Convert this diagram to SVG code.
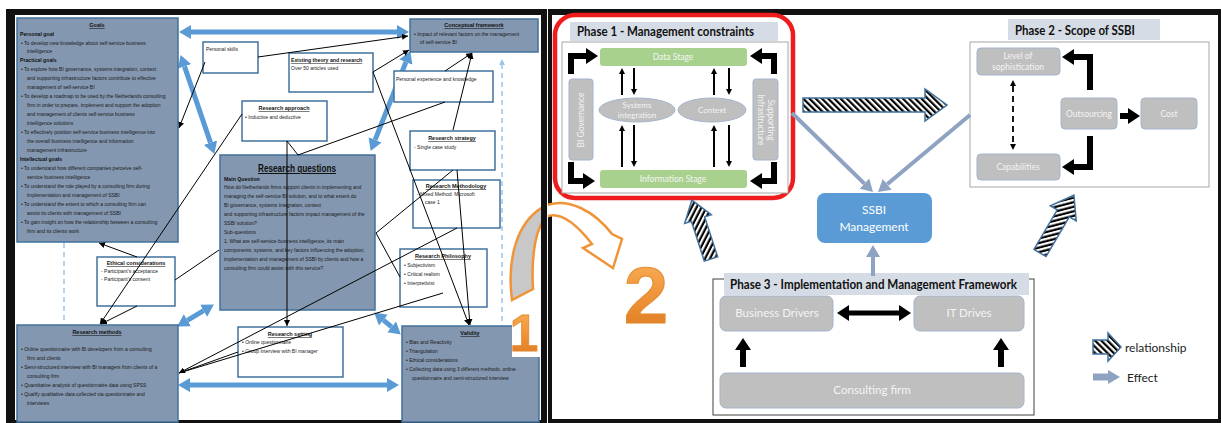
<svg xmlns="http://www.w3.org/2000/svg" width="1221" height="423" viewBox="0 0 1221 423">
<defs>
<style>
.lb{fill:#8497b0;stroke:#41719c;stroke-width:1.5}
.wb{fill:#fff;stroke:#41719c;stroke-width:1.5}
.t{font-family:"Liberation Sans",Arial,sans-serif;font-size:5px;fill:#1a1a1a}
.tb{font-family:"Liberation Sans",Arial,sans-serif;font-size:5.2px;fill:#111;font-weight:bold}
.tu{font-family:"Liberation Sans",Arial,sans-serif;font-size:5.5px;fill:#111;font-weight:bold;text-decoration:underline;text-anchor:middle}
.cn{stroke:#000;stroke-width:1;fill:none}
.ba{stroke:#5b9bd5;stroke-width:5;fill:none}
.dl{stroke:#9dc3e6;stroke-width:1.5;stroke-dasharray:5 4;fill:none}
.gb{fill:#bfbfbf;stroke:#a3b4cc;stroke-width:1}
.gt{font-family:Lato,"Open Sans",sans-serif;fill:#f4f4f4;text-anchor:middle}
.hd{font-family:Lato,"Open Sans",sans-serif;font-weight:bold;fill:#111}
.band{fill:#d6dce5}
.fx{stroke:#8ea3c1;stroke-width:4;fill:none}
.hatch{fill:url(#hp);stroke:#41719c;stroke-width:1.5}
</style>
<pattern id="hp" patternUnits="userSpaceOnUse" width="4.4" height="4.4" patternTransform="rotate(-45)"><rect width="4.4" height="4.4" fill="#fff"/><rect width="2.2" height="4.4" fill="#000"/></pattern>
<marker id="mb" markerUnits="userSpaceOnUse" markerWidth="12" markerHeight="14" refX="0" refY="7" orient="auto-start-reverse"><path d="M0,0 L12,7 L0,14 z" fill="#5b9bd5"/></marker>
<marker id="ms" markerUnits="userSpaceOnUse" markerWidth="6" markerHeight="6" refX="6" refY="3" orient="auto"><path d="M0,0 L6,3 L0,6 z" fill="#000"/></marker>
<marker id="mk" markerUnits="userSpaceOnUse" markerWidth="12" markerHeight="16" refX="0" refY="8" orient="auto-start-reverse"><path d="M0,0 L12,8 L0,16 z" fill="#000"/></marker>
<marker id="mt" markerUnits="userSpaceOnUse" markerWidth="6" markerHeight="6" refX="0" refY="3" orient="auto"><path d="M0,0 L6,3 L0,6 z" fill="#000"/></marker>
<marker id="md" markerUnits="userSpaceOnUse" markerWidth="6" markerHeight="6" refX="0" refY="3" orient="auto-start-reverse"><path d="M0,0 L6,3 L0,6 z" fill="#000"/></marker>
<marker id="me" markerUnits="userSpaceOnUse" markerWidth="12" markerHeight="14" refX="0" refY="7" orient="auto"><path d="M0,0 L12,7 L0,14 z" fill="#8ea3c1"/></marker>
<marker id="mdb" markerUnits="userSpaceOnUse" markerWidth="6" markerHeight="6" refX="0" refY="3" orient="auto"><path d="M0,0 L6,3 L0,6 z" fill="#9dc3e6"/></marker>
<linearGradient id="og" x1="0" y1="0" x2="0" y2="1"><stop offset="0" stop-color="#f9b35c"/><stop offset="0.5" stop-color="#f0943a"/><stop offset="1" stop-color="#d9771e"/></linearGradient>
<clipPath id="cl"><rect x="0" y="0" width="541" height="423"/></clipPath>
<clipPath id="cr"><rect x="548" y="0" width="673" height="423"/></clipPath>
</defs>

<rect width="1221" height="423" fill="#fff"/>

<!-- frames -->
<g id="frames">
<rect x="6" y="9" width="541" height="414" fill="#111"/>
<rect x="15" y="15" width="526" height="405" fill="#fff"/>
<rect x="548" y="9" width="673" height="414" fill="#111"/>
<rect x="552" y="15" width="666" height="404" fill="#fff"/>
</g>

<!-- LEFT PANEL -->
<g id="left-connectors">
<line class="ba" x1="191" y1="32" x2="397" y2="32" marker-start="url(#mb)" marker-end="url(#mb)"/>
<line class="ba" x1="184.5" y1="66.4" x2="210.5" y2="142.6" marker-start="url(#mb)" marker-end="url(#mb)"/>
<line class="ba" x1="405.9" y1="62.2" x2="375.1" y2="139.8" marker-start="url(#mb)" marker-end="url(#mb)"/>
<line class="ba" x1="187.4" y1="320.3" x2="203.6" y2="310.7" marker-start="url(#mb)" marker-end="url(#mb)"/>
<line class="ba" x1="383.4" y1="320.1" x2="391.6" y2="326.9" marker-start="url(#mb)" marker-end="url(#mb)"/>
<line class="ba" x1="190" y1="385" x2="387" y2="385" marker-start="url(#mb)" marker-end="url(#mb)"/>
<line class="dl" x1="64" y1="243" x2="64" y2="325"/>
<line class="dl" x1="502" y1="330" x2="502" y2="65" marker-end="url(#mdb)"/>
</g>

<g id="goals"><rect class="lb" x="17" y="18" width="161" height="224"/>
<text class="tu" x="97" y="27">Goals</text>
<text class="tb" x="20" y="36">Personal goal</text>
<text class="t" x="21" y="45">•  To develop new knowledge about self-service business</text>
<text class="t" x="27" y="53">intelligence</text>
<text class="tb" x="20" y="62">Practical goals</text>
<text class="t" x="21" y="71">•  To explore how BI governance, systems integration, context</text>
<text class="t" x="27" y="80">and supporting infrastructure factors contribute to effective</text>
<text class="t" x="27" y="89">management of self-service BI</text>
<text class="t" x="21" y="98">•  To develop a roadmap to be used by the Netherlands consulting</text>
<text class="t" x="27" y="107">firm in order to prepare, implement and support the adoption</text>
<text class="t" x="27" y="116">and management of clients self-service business</text>
<text class="t" x="27" y="125">intelligence solutions</text>
<text class="t" x="21" y="134">•  To effectively position self-service business intelligence into</text>
<text class="t" x="27" y="143">the overall business intelligence and information</text>
<text class="t" x="27" y="152">management infrastructure</text>
<text class="tb" x="20" y="161">Intellectual goals</text>
<text class="t" x="21" y="170">•  To understand how different companies perceive self-</text>
<text class="t" x="27" y="179">service business intelligence</text>
<text class="t" x="21" y="188">•  To understand the role played by a consulting firm during</text>
<text class="t" x="27" y="197">implementation and management of SSBI</text>
<text class="t" x="21" y="206">•  To understand the extent to which a consulting firm can</text>
<text class="t" x="27" y="215">assist its clients with management of SSBI</text>
<text class="t" x="21" y="224">•  To gain insight on how the relationship between a consulting</text>
<text class="t" x="27" y="233">firm and its clients work</text>
</g>

<g id="research-questions"><rect class="lb" x="220" y="155" width="155" height="155"/>
<text x="297" y="172" text-anchor="middle" font-family="Liberation Sans, Arial, sans-serif" font-size="10" font-weight="bold" text-decoration="underline" fill="#111" textLength="78" lengthAdjust="spacingAndGlyphs">Research questions</text>
<text class="tb" x="224" y="181">Main Question</text>
<text class="t" x="224" y="189">How do Netherlands firms support clients in implementing and</text>
<text class="t" x="224" y="198">managing the self-service BI solution, and to what extent do</text>
<text class="t" x="224" y="207">BI governance, systems integration, context</text>
<text class="t" x="224" y="216">and supporting infrastructure factors impact management of the</text>
<text class="t" x="224" y="225">SSBI solution?</text>
<text class="t" x="224" y="234">Sub-questions</text>
<text class="t" x="224" y="243">1. What are self-service business intelligence, its main</text>
<text class="t" x="224" y="252">components, systems, and key factors influencing the adoption,</text>
<text class="t" x="224" y="261">implementation and management of SSBI by clients and how a</text>
<text class="t" x="224" y="270">consulting firm could assist with this service?</text>
</g>

<g id="conceptual-framework"><rect class="lb" x="410" y="19" width="128" height="33"/>
<text class="tu" x="474" y="27">Conceptual framework</text>
<text class="t" x="414" y="36">•  Impact of relevant factors on the management</text>
<text class="t" x="420" y="44">of self-service BI</text>
</g>

<g id="research-methods"><rect class="lb" x="17" y="325" width="161" height="97"/>
<text class="tu" x="97" y="334">Research methods</text>
<text class="t" x="21" y="351">•  Online questionnaire with BI developers from a consulting</text>
<text class="t" x="27" y="360">firm and clients</text>
<text class="t" x="21" y="369">•  Semi-structured interview with BI managers from clients of a</text>
<text class="t" x="27" y="378">consulting firm</text>
<text class="t" x="21" y="387">•  Quantitative analysis of questionnaire data using SPSS</text>
<text class="t" x="21" y="396">•  Qualify qualitative data collected via questionnaire and</text>
<text class="t" x="27" y="405">interviews</text>
</g>

<g id="validity"><rect class="lb" x="402" y="326" width="137" height="96"/>
<text class="tu" x="470" y="335">Validity</text>
<text class="t" x="406" y="344">•  Bias and Reactivity</text>
<text class="t" x="406" y="353">•  Triangulation</text>
<text class="t" x="406" y="362">•  Ethical considerations</text>
<text class="t" x="406" y="371">•  Collecting data using 3 different methods, online</text>
<text class="t" x="412" y="380">questionnaire and semi-structured interview</text>
</g>

<g id="personal-skills"><rect class="wb" x="203" y="42" width="55" height="31"/>
<text class="t" x="206" y="51">Personal skills</text></g>

<g id="existing-theory"><rect class="wb" x="289" y="53" width="84" height="39"/>
<text class="tb" x="291" y="62" text-decoration="underline">Existing theory and research</text>
<text class="t" x="291" y="70">Over 50 articles used</text></g>

<g id="personal-experience"><rect class="wb" x="394" y="71" width="99" height="31"/>
<text class="t" x="396" y="81">Personal experience and knowledge</text></g>

<g id="research-approach"><rect class="wb" x="242" y="101" width="85" height="40"/>
<text class="tu" x="284" y="110">Research approach</text>
<text class="t" x="245" y="119">•  Inductive and deductive</text></g>

<g id="research-strategy"><rect class="wb" x="410" y="131" width="85" height="39"/>
<text class="tu" x="452" y="140">Research strategy</text>
<text class="t" x="414" y="149">-  Single case study</text></g>

<g id="research-methodology"><rect class="wb" x="413" y="180" width="87" height="48"/>
<text class="tu" x="456" y="188">Research Methodology</text>
<text class="t" x="417" y="196">- Mixed Method: Microsoft</text>
<text class="t" x="425" y="204">case 1</text></g>

<g id="research-philosophy"><rect class="wb" x="400" y="249" width="87" height="58"/>
<text class="tu" x="443" y="258">Research Philosophy</text>
<text class="t" x="404" y="267">•  Subjectivism</text>
<text class="t" x="404" y="276">•  Critical realism</text>
<text class="t" x="404" y="285">•  Interpretivist</text></g>

<g id="ethical-considerations"><rect class="wb" x="97" y="257" width="78" height="49"/>
<text class="tu" x="136" y="265">Ethical considerations</text>
<text class="t" x="101" y="273">-  Participant's acceptance</text>
<text class="t" x="101" y="281">-  Participant's consent</text></g>

<g id="research-setting"><rect class="wb" x="238" y="327" width="105" height="50"/>
<text class="tu" x="290" y="336">Research setting</text>
<text class="t" x="242" y="344">•  Online questionnaire</text>
<text class="t" x="242" y="353">•  Group interview with BI manager</text></g>

<g id="left-lines">
<path class="cn" d="M258,57 L408,36" marker-end="url(#ms)"/>
<path class="cn" d="M205,62 L179,128" marker-end="url(#ms)"/>
<path class="cn" d="M242,114 L100,324" marker-end="url(#ms)"/>
<path class="cn" d="M137,257 L99,243" marker-end="url(#ms)"/>
<path class="cn" d="M137,306 L101,324" marker-end="url(#ms)"/>
<path class="cn" d="M175,280 L219,250"/>
<path class="cn" d="M287,141 L287,326" marker-end="url(#ms)"/>
<path class="cn" d="M287,141 L298,155 L445,102"/>
<path class="cn" d="M373,72 L409,50" marker-end="url(#ms)"/>
<path class="cn" d="M445,71 L472,53" marker-end="url(#ms)"/>
<path class="cn" d="M453,130 L472,53" marker-end="url(#ms)"/>
<path class="cn" d="M373,72 L469,325" marker-end="url(#ms)"/>
<path class="cn" d="M457,170 L470,325" marker-end="url(#ms)"/>
<path class="cn" d="M453,170 L376,233 L400,277"/>
<path class="cn" d="M457,228 L179,373" marker-end="url(#ms)"/>
<path class="cn" d="M443,293 L179,373"/>
<path class="cn" d="M238,352 L179,373"/>
</g>

<!-- orange curved arrow and numbers -->
<g id="step-1">
<rect x="512" y="322" width="29" height="35" fill="#fff"/>
<path clip-path="url(#cl)" d="M512,300 C507,262 515,222 545,206 C568,196 595,212 612,234 L622,239 L613,268 L583,248 L592,244 C578,226 562,212 548,216 C536,224 531,255 533,289 Z" fill="#c8c8c8" stroke="#f0943a" stroke-width="2.5"/>
<text x="524" y="351" text-anchor="middle" font-family="Liberation Sans, Arial, sans-serif" font-size="52" font-weight="bold" fill="url(#og)" stroke="#e58a2e" stroke-width="0.8">1</text>
</g>
<g id="step-2">
<path clip-path="url(#cr)" d="M512,300 C507,262 515,222 545,206 C568,196 595,212 612,234 L622,239 L613,268 L583,248 L592,244 C578,226 562,212 548,216 C536,224 531,255 533,289 Z" fill="#fff" stroke="#f0943a" stroke-width="2.5"/>
<text x="646" y="323" text-anchor="middle" font-family="Liberation Sans, Arial, sans-serif" font-size="80" font-weight="bold" fill="url(#og)" stroke="#e58a2e" stroke-width="1">2</text>
</g>

<!-- RIGHT PANEL -->
<g id="phase1">
<rect x="555" y="15" width="238" height="183" rx="20" fill="#fff" stroke="#ee1c1c" stroke-width="4.5"/>
<rect class="band" x="570" y="22" width="208" height="19"/>
<text class="hd" x="577" y="36" font-size="13" textLength="177" lengthAdjust="spacingAndGlyphs">Phase 1 - Management constraints</text>
<rect x="562" y="42" width="226" height="151" fill="#fff" stroke="#a6a6a6" stroke-width="1"/>
<rect x="600" y="48" width="147" height="18" rx="3" fill="#a9d18e"/>
<text class="gt" x="673" y="60" font-size="8.5">Data Stage</text>
<rect x="600" y="170" width="147" height="18" rx="3" fill="#a9d18e"/>
<text class="gt" x="673" y="182" font-size="8.5">Information Stage</text>
<rect class="gb" x="569" y="79" width="24" height="81" rx="3"/>
<text class="gt" transform="translate(584,120) rotate(-90)" font-size="8.5">BI Governance</text>
<rect class="gb" x="753" y="79" width="25" height="81" rx="3"/>
<text class="gt" transform="translate(765,120) rotate(90)" font-size="8.5"><tspan x="0" y="-3">Supporting</tspan><tspan x="0" y="7">Infrastructure</tspan></text>
<ellipse class="gb" cx="637" cy="110" rx="38" ry="12"/>
<text class="gt" x="637" y="108" font-size="8">Systems</text>
<text class="gt" x="637" y="118" font-size="8">integration</text>
<ellipse class="gb" cx="712" cy="110" rx="34" ry="12"/>
<text class="gt" x="712" y="113" font-size="8">Context</text>
<g stroke="#000" stroke-width="2" fill="none">
<line x1="622" y1="95" x2="622" y2="74" marker-end="url(#mt)"/>
<line x1="634" y1="68" x2="634" y2="89" marker-end="url(#mt)"/>
<line x1="622" y1="167" x2="622" y2="131" marker-end="url(#mt)"/>
<line x1="634" y1="125" x2="634" y2="161" marker-end="url(#mt)"/>
<line x1="714" y1="95" x2="714" y2="74" marker-end="url(#mt)"/>
<line x1="729" y1="68" x2="729" y2="89" marker-end="url(#mt)"/>
<line x1="714" y1="167" x2="714" y2="131" marker-end="url(#mt)"/>
<line x1="729" y1="125" x2="729" y2="161" marker-end="url(#mt)"/>
</g>
<g stroke="#000" stroke-width="6" fill="none" stroke-linejoin="miter">
<polyline points="571,74 571,56 586,56" marker-end="url(#mk)"/>
<polyline points="774,74 774,56 762,56" marker-end="url(#mk)"/>
<polyline points="571,162 571,181 583,181" marker-end="url(#mk)"/>
<polyline points="774,162 774,181 762,181" marker-end="url(#mk)"/>
</g>
</g>

<g id="phase2">
<rect class="band" x="1008" y="19" width="152" height="21"/>
<text class="hd" x="1015" y="35" font-size="13" textLength="120" lengthAdjust="spacingAndGlyphs">Phase 2 - Scope of SSBI</text>
<rect x="970" y="42" width="239" height="145" fill="#fff" stroke="#a6a6a6" stroke-width="1"/>
<rect class="gb" x="977" y="48" width="83" height="27" rx="4"/>
<text class="gt" x="1018" y="59" font-size="8.5">Level of</text>
<text class="gt" x="1018" y="70" font-size="8.5">sophistication</text>
<rect class="gb" x="977" y="154" width="83" height="26" rx="4"/>
<text class="gt" x="1018" y="170" font-size="8.5">Capabilities</text>
<rect class="gb" x="1061" y="98" width="56" height="31" rx="4"/>
<text class="gt" x="1089" y="117" font-size="8.5">Outsourcing</text>
<rect class="gb" x="1141" y="98" width="56" height="31" rx="4"/>
<text class="gt" x="1169" y="117" font-size="8.5">Cost</text>
<g stroke="#000" stroke-width="6" fill="none">
<polyline points="1090,90 1090,57 1074,57" marker-end="url(#mk)"/>
<polyline points="1090,136 1090,167 1074,167" marker-end="url(#mk)"/>
<line x1="1120" y1="116" x2="1128" y2="116" marker-end="url(#mk)"/>
</g>
<line x1="1013" y1="86" x2="1013" y2="144" stroke="#000" stroke-width="1.8" stroke-dasharray="6 4" marker-start="url(#md)" marker-end="url(#md)"/>
</g>

<g id="ssbi-management">
<rect x="817" y="193" width="115" height="50" rx="8" fill="#5b9bd5"/>
<text x="874" y="214" text-anchor="middle" font-family="Lato, Open Sans, sans-serif" font-size="12" fill="#fff">SSBI</text>
<text x="874" y="231" text-anchor="middle" font-family="Lato, Open Sans, sans-serif" font-size="12" fill="#fff">Management</text>
</g>

<g id="phase3">
<rect x="713" y="279" width="321" height="136" fill="#fff" stroke="#404040" stroke-width="1"/>
<rect class="band" x="724" y="273" width="305" height="22"/>
<text class="hd" x="730" y="289" font-size="13" textLength="287" lengthAdjust="spacingAndGlyphs">Phase 3 - Implementation and Management Framework</text>
<rect class="gb" x="720" y="296" width="113" height="35" rx="6"/>
<text class="gt" x="777" y="317" font-size="11.5">Business Drivers</text>
<rect class="gb" x="914" y="296" width="110" height="35" rx="6"/>
<text class="gt" x="969" y="317" font-size="11.5">IT Drives</text>
<rect class="gb" x="720" y="373" width="304" height="35" rx="6"/>
<text class="gt" x="872" y="394" font-size="11.5">Consulting firm</text>
<g stroke="#000" fill="none">
<line x1="849" y1="313" x2="899" y2="313" stroke-width="5" marker-start="url(#mk)" marker-end="url(#mk)"/>
<line x1="743" y1="367" x2="743" y2="350" stroke-width="6" marker-end="url(#mk)"/>
<line x1="1001" y1="367" x2="1001" y2="350" stroke-width="6" marker-end="url(#mk)"/>
</g>
</g>

<g id="connectors">
<line class="fx" x1="792" y1="113" x2="864.4" y2="183.6" marker-end="url(#me)"/>
<line class="fx" x1="970" y1="115" x2="887.2" y2="184.3" marker-end="url(#me)"/>
<line class="fx" x1="873" y1="276" x2="873" y2="257" marker-end="url(#me)"/>
<polygon class="hatch" points="803,98 925,98 925,89 947,105 925,121 925,112 803,112"/>
<polygon class="hatch" transform="translate(711,259) rotate(-108)" points="0,-7 42,-7 42,-14 62,0 42,14 42,7 0,7"/>
<polygon class="hatch" transform="translate(1040,253) rotate(-59.6)" points="0,-7 46,-7 46,-15 67,0 46,15 46,7 0,7"/>
</g>

<g id="legend">
<polygon class="hatch" points="1093,340 1108,340 1108,333 1121,347 1108,361 1108,354 1093,354"/>
<text x="1125" y="352" font-family="Lato, Open Sans, sans-serif" font-size="12" fill="#222">relationship</text>
<line x1="1093" y1="377" x2="1108" y2="377" stroke="#8ea3c1" stroke-width="7" marker-end="url(#me)"/>
<text x="1127" y="382" font-family="Lato, Open Sans, sans-serif" font-size="12" fill="#222">Effect</text>
</g>
</svg>
